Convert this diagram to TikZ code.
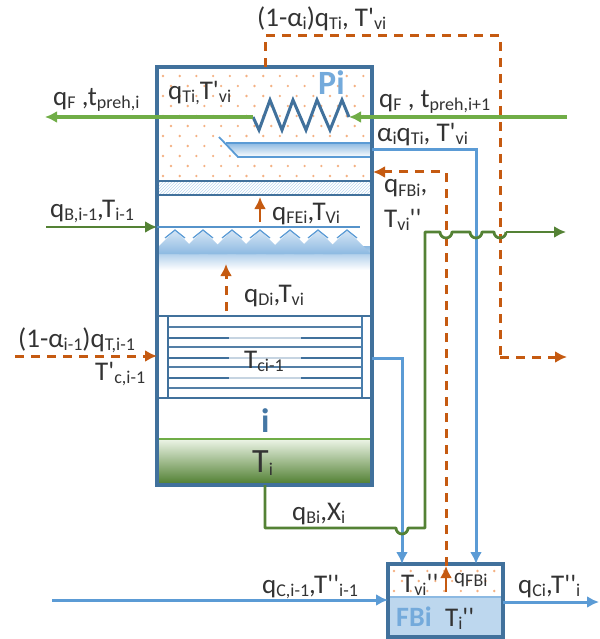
\documentclass[tikz,border=0pt]{standalone}
\usepackage{fontspec}
\setmainfont{Carlito}[Ligatures=TeXOff]
\usepackage{xcolor}
\usetikzlibrary{arrows.meta}
\usetikzlibrary{patterns}
\definecolor{wall}{HTML}{41719C}
\definecolor{steam}{HTML}{C55A11}
\definecolor{brine}{HTML}{548235}
\definecolor{feed}{HTML}{70AD47}
\definecolor{water}{HTML}{5B9BD5}
\definecolor{inkgray}{HTML}{333333}
\definecolor{speck}{HTML}{F4B183}
\newcommand{\low}[1]{\raisebox{-3pt}{\fontsize{18}{18}\selectfont #1}}
\tikzset{
  tip/.style = {-{Latex[length=12pt,width=12pt]}},
  vessel/.style = {draw=wall,line width=3.4pt},
  steamline/.style = {tip,draw=steam,line width=3pt,dash pattern=on 9pt off 7pt},
  steamsolid/.style = {tip,draw=steam,line width=2.4pt},
  brineline/.style = {draw=brine,line width=2.8pt,line join=round},
  feedline/.style = {tip,draw=feed,line width=3.2pt},
  waterline/.style = {draw=water,line width=3pt},
  lab/.style = {anchor=base west,inner sep=0pt,text=inkgray,font=\fontsize{27}{27}\selectfont},
  titlelab/.style = {anchor=base west,inner sep=0pt,font=\fontsize{34}{34}\selectfont\bfseries}
}
\begin{document}
\begin{tikzpicture}[x=1pt,y=-1pt]
\useasboundingbox (0,0) rectangle (599,639);
% effect i: vapour space dots
\foreach \row in {0,...,5} {
  \foreach \col in {0,...,12} {
    \fill[speck] ({163+\col*16.7},{76+\row*20}) circle (1.3pt);
    \ifnum\row<5 \fill[speck] ({171+\col*16.7},{86+\row*20}) circle (1.3pt);\fi
  }
}
\foreach \col in {0,...,6} {
  \fill[speck] ({394+\col*16.7},{571}) circle (1.3pt);
  \fill[speck] ({402+\col*16.7},{581}) circle (1.3pt);
  \fill[speck] ({394+\col*16.7},{591}) circle (1.3pt);
}
% demister
\fill[pattern=north east lines,pattern color=water!40] (157,181) rectangle (372,194);
% spray
\begin{scope}
  \clip (158,229) rectangle (371,272);
  \shade[top color=water!70,bottom color=white] (158,246) rectangle (371,270);
  \foreach \peak in {175,203,232,260,290,318,347} {
    \shade[top color=water!25,bottom color=water!70] (\peak,230) -- (\peak+24,254) -- (\peak-24,254) -- cycle;
    \draw[water,line width=1.2pt] (\peak-10,238) -- (\peak,230) -- (\peak+10,238);
  }
\end{scope}
% tubes
\foreach \ytube in {327,347,367,388} \draw[wall!90,line width=1.2pt] (168,\ytube) -- (362,\ytube);
\foreach \ytube in {338,358,378} {
  \draw[wall!30,line width=2.4pt] (229,\ytube) -- (301,\ytube);
  \draw[wall,line width=2.4pt] (168,\ytube) -- (229,\ytube) (301,\ytube) -- (362,\ytube);
}
\draw[wall,line width=1.6pt] (168,316) -- (168,398);
\draw[wall!70!water,line width=1.6pt] (362,316) -- (362,398);
% liquid
\shade[top color=feed!15,middle color=feed!65,bottom color=feed!75!black] (157,440) rectangle (372,483);
\draw[feed,line width=2.2pt] (157,439) -- (372,439);
% flash box
\fill[water!40] (388,597) rectangle (503,637);
\draw[water!70,line width=1.5pt] (388,597) -- (503,597);
% tray
\shade[top color=water!70,bottom color=white] (226,143) -- (372,143) -- (372,157) -- (238,157) -- cycle;
\draw[water,line width=1.8pt] (372,143) -- (226,143);
\draw[water,line width=1.8pt] (219,137) -- (238,157) -- (372,157);
% walls
\draw[vessel] (157,67) rectangle (372,485);
\draw[wall,line width=2.2pt] (157,181) -- (372,181) (157,195) -- (372,195) (157,316) -- (372,316) (157,398) -- (372,398);
\draw[vessel] (388,564) rectangle (503,637);
\draw[water!80!wall,line width=2.6pt] (157,227) -- (360,227);
% coil
\coordinate (coilL) at (253,117);
\coordinate (coilR) at (349,117);
\draw[wall,line width=3pt,line join=miter] (coilL) -- (259,130) -- (270,100) -- (282,130) -- (293,100) -- (306,130) -- (317,100) -- (330,130) -- (342,100) -- (coilR);
% stream ends
\coordinate (feedIn) at (567,117);
\coordinate (feedOut) at (45,117);
\coordinate (topOut) at (265,67);
\coordinate (topA) at (265,36);
\coordinate (topB) at (500,36);
\coordinate (topC) at (500,357);
\coordinate (topEnd) at (567,357);
\coordinate (dashIn) at (15,356);
\coordinate (wallL) at (157,356);
\coordinate (brineIn) at (46,227);
\coordinate (brineWall) at (157,227);
\coordinate (trayOut) at (372,150);
\coordinate (trayC) at (476,150);
\coordinate (fbTopR) at (476,564);
\coordinate (tubeOut) at (372,358);
\coordinate (tubeC) at (402,358);
\coordinate (fbTopL) at (402,564);
\coordinate (fbRise) at (446,592);
\coordinate (fbTop) at (446,566);
\coordinate (flashC) at (446,172);
\coordinate (flashEnd) at (373,172);
\coordinate (liqOut) at (265,485);
\coordinate (liqC) at (265,528);
\coordinate (hopA) at (396,528);
\coordinate (liqD) at (425,528);
\coordinate (liqE) at (425,232);
\coordinate (hopB) at (440,232);
\coordinate (hopEnd) at (506,232);
\coordinate (brineEnd) at (566,232);
\coordinate (coolIn) at (52,600);
\coordinate (coolBox) at (388,600);
\coordinate (coolOut) at (503,602);
\coordinate (coolEnd) at (599,602);
\coordinate (vapA) at (226,311);
\coordinate (vapB) at (226,264);
\coordinate (feiA) at (260,222);
\coordinate (feiB) at (260,197);
% connectors
\draw[steamline,-] (topOut) -- (topA) -- (topB) -- (topC);
\draw[steamline] (topC) -- (topEnd);
\draw[steamline] (dashIn) -- (wallL);
\draw[steamline] (fbTop) -- (flashC) -- (flashEnd);
\draw[steamline] (vapA) -- (vapB);
\draw[steamsolid] (feiA) -- (feiB);
\draw[steamsolid] (fbRise) -- (fbTop);
\draw[waterline,tip] (trayOut) -- (trayC) -- (fbTopR);
\draw[waterline,tip] (tubeOut) -- (tubeC) -- (fbTopL);
\draw[waterline,tip] (coolIn) -- (coolBox);
\draw[waterline,tip] (coolOut) -- (coolEnd);
\draw[feedline] (feedIn) -- (coilR);
\draw[feedline] (coilL) -- (feedOut);
\draw[brineline,tip] (brineIn) -- (brineWall);
\draw[brineline] (liqOut) -- (liqC) -- (hopA) arc[start angle=180,end angle=0,radius=6] -- (liqD) -- (liqE)
  -- (hopB) arc[start angle=180,end angle=0,radius=6] -- (470,232) arc[start angle=180,end angle=0,radius=6] -- (494,232) arc[start angle=180,end angle=0,radius=6];
\draw[brineline,tip] (hopEnd) -- (brineEnd);
% labels
\node[lab] (lbTop) at (257,27) {(1-α\low{i})q\low{Ti}, T'\low{vi}};
\node[lab] (lbFout) at (53,106) {q\low{F} ,t\low{preh,i}};
\node[lab] (lbTi) at (168,100) {q\low{Ti,}T'\low{vi}};
\node[titlelab,text=water!85] (lbPi) at (318,95) {Pi};
\node[lab] (lbFin) at (379,108) {q\low{F} , t\low{preh,i+1}};
\node[lab] (lbAlpha) at (377,142) {α\low{i}q\low{Ti}, T'\low{vi}};
\node[lab] (lbFb) at (384,193) {q\low{FBi},};
\node[lab] (lbTvi) at (384,227) {T\low{vi}''};
\node[lab] (lbB) at (50,217) {q\low{B,i-1},T\low{i-1}};
\node[lab] (lbFe) at (272,220) {q\low{FEi},T\low{Vi}};
\node[lab] (lbD) at (244,302) {q\low{Di},T\low{vi}};
\node[lab] (lbPrev) at (18,347) {(1-α\low{i-1})q\low{T,i-1}};
\node[lab] (lbPrevT) at (95,380) {T'\low{c,i-1}};
\node[lab] (lbTc) at (244,368) {T\low{ci-1}};
\node[titlelab,text=wall!85!water] (lbI) at (261,432) {i};
\node[lab,font=\fontsize{34}{34}\selectfont] (lbLiq) at (252,472) {T\low{i}};
\node[lab] (lbBi) at (292,520) {q\low{Bi},X\low{i}};
\node[lab] (lbC) at (262,593) {q\low{C,i-1},T''\low{i-1}};
\node[lab] (lbBox) at (401,592) {T\low{vi}''};
\node[lab,font=\fontsize{21}{21}\selectfont] (lbBoxq) at (454,583) {q\low{FBi}};
\node[titlelab,font=\fontsize{28}{28}\selectfont\bfseries,text=water!85] (lbFBi) at (396,626) {FBi};
\node[lab] (lbBoxT) at (445,626) {T\low{i}''};
\node[lab] (lbCi) at (518,593) {q\low{Ci},T''\low{i}};
\end{tikzpicture}
\end{document}
